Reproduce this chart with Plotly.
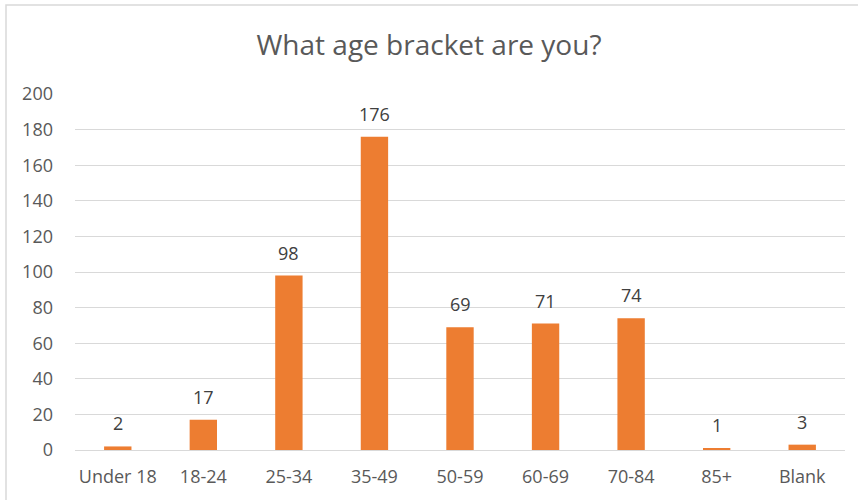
import plotly.graph_objects as go

categories = ["Under 18", "18-24", "25-34", "35-49", "50-59", "60-69", "70-84", "85+", "Blank"]
counts = [2, 17, 98, 176, 69, 71, 74, 1, 3]
y_ticks = list(range(0, 201, 20))

W, H = 858, 500
L, R, T, B = 75, 13, 94, 50
pw, ph = W - L - R, H - T - B

fig = go.Figure(
    go.Bar(
        x=categories,
        y=counts,
        marker=dict(color="#ED7D31", line=dict(width=0)),
        hoverinfo="x+y",
    )
)

# value labels above bars
for cat, val in zip(categories, counts):
    fig.add_annotation(x=cat, y=val, text=str(val), showarrow=False,
                       yanchor="bottom", yshift=9,
                       font=dict(size=18, color="#404040"))

# outer chart border (only left/top edges are in frame)
fig.add_shape(
    type="rect", xref="paper", yref="paper",
    x0=(6 - L) / pw, x1=(880 - L) / pw,
    y0=(T + ph - 520) / ph, y1=(T + ph - 5) / ph,
    line=dict(color="#d9d9d9", width=1.5), layer="below",
)

fig.update_layout(
    width=W, height=H,
    margin=dict(l=L, r=R, t=T, b=B),
    paper_bgcolor="white", plot_bgcolor="white",
    font=dict(family="Open Sans", color="#595959", size=18),
    title=dict(text="What age bracket are you?", x=0.5, xanchor="center",
               y=1 - 45 / H, yanchor="middle", font=dict(size=28, color="#595959")),
    bargap=0.68,
    showlegend=False,
)
fig.update_yaxes(range=[0, 200], tickvals=y_ticks, gridcolor="#d9d9d9", gridwidth=1,
                 zeroline=False, ticks="", ticklabelstandoff=21, showline=False,
                 automargin=False)
fig.update_xaxes(showgrid=False, ticks="", showline=True, linecolor="#d9d9d9", linewidth=1,
                 ticklabelstandoff=10, automargin=False)

fig.write_html("out.html", config={"displayModeBar": False},
               post_script="document.body.style.margin='0';")
